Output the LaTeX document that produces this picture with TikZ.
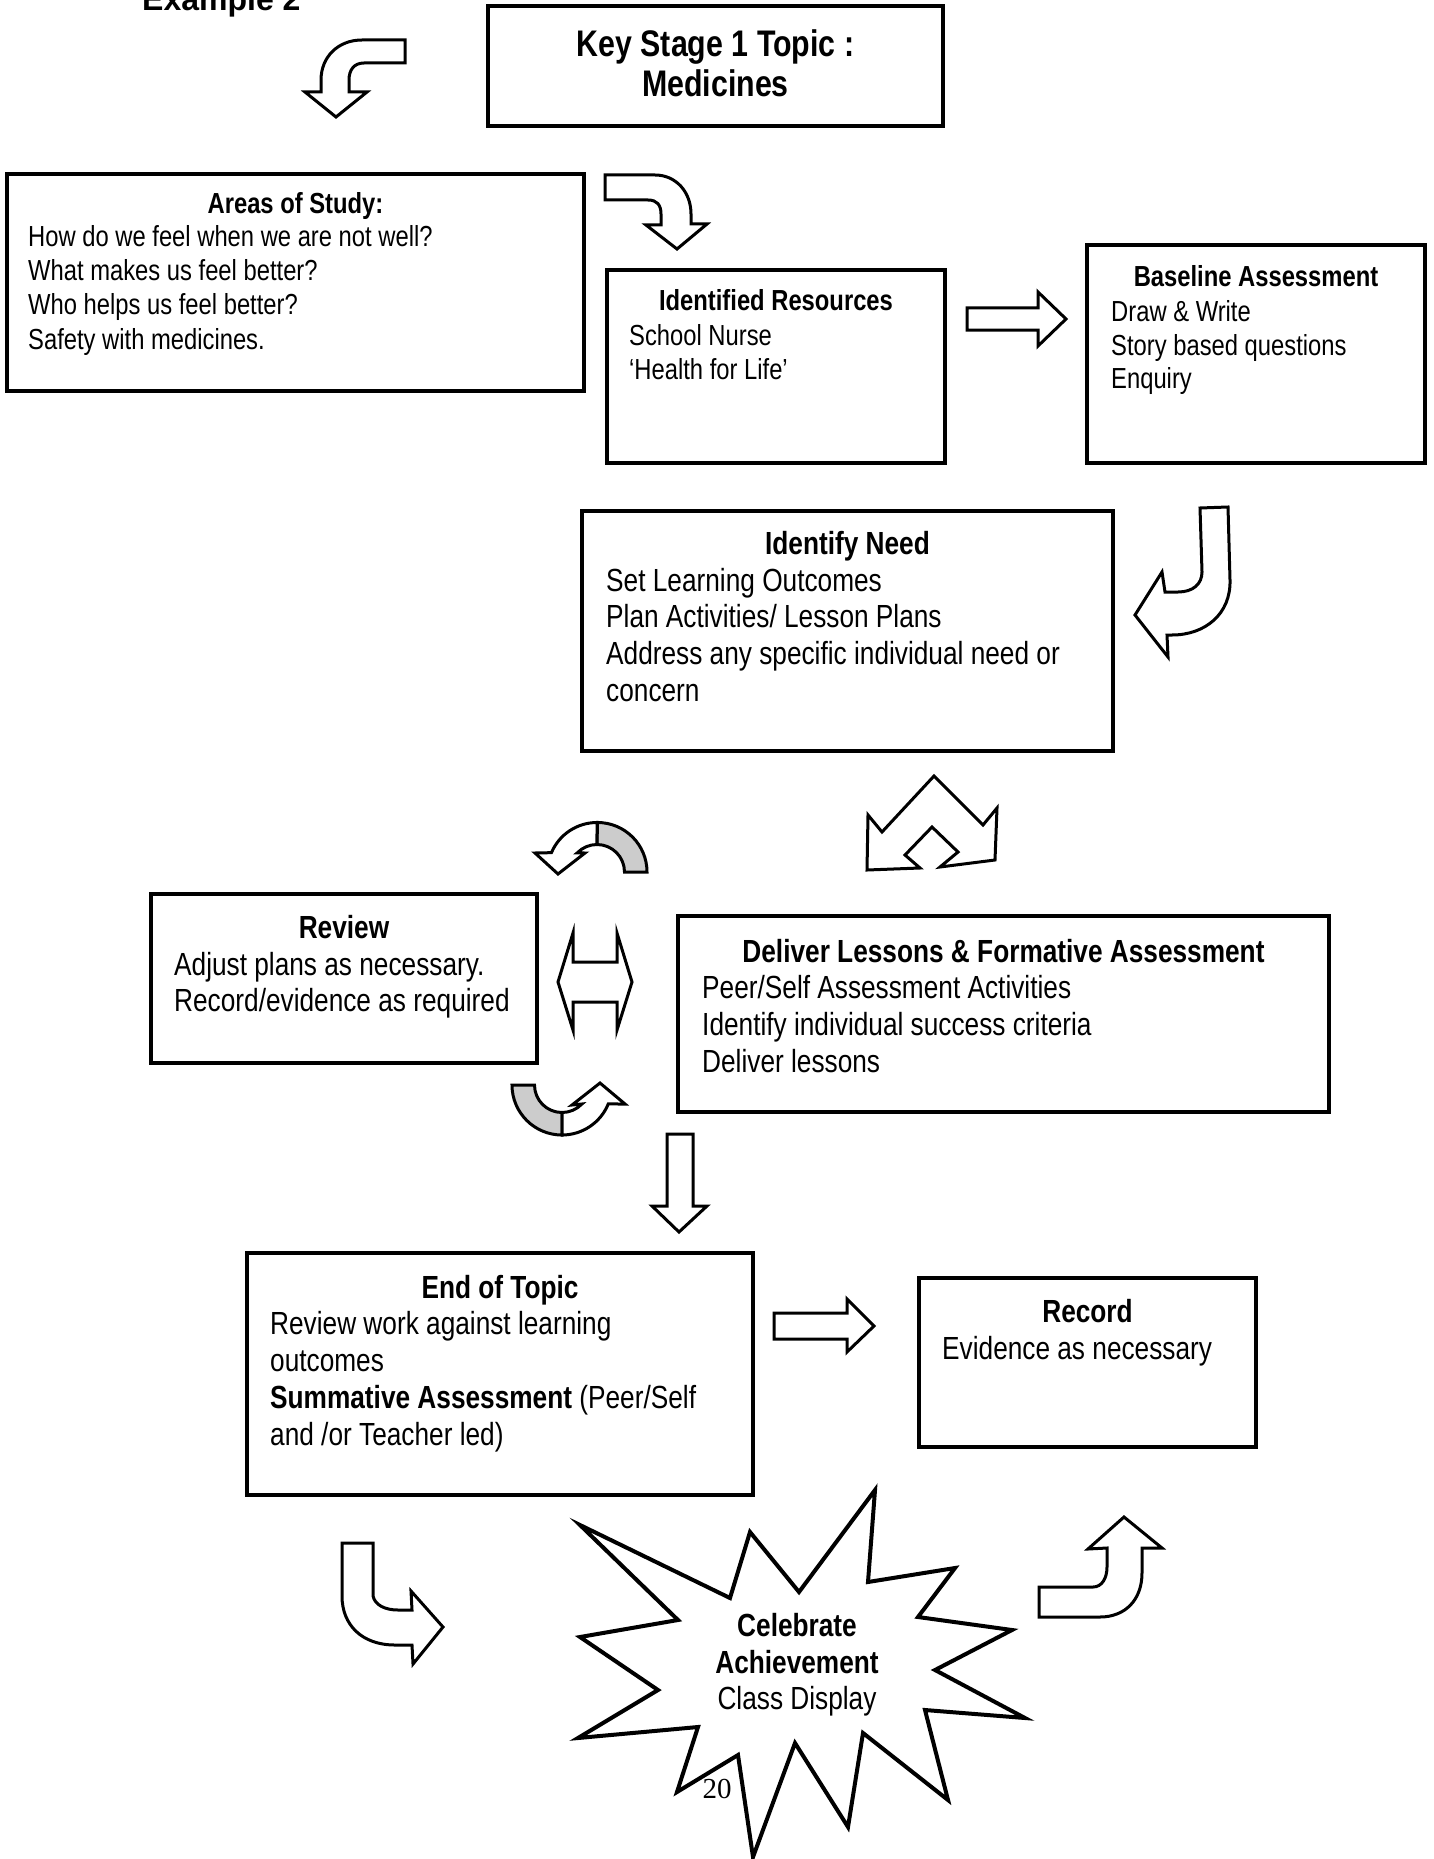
\documentclass[tikz,border=0pt]{standalone}
\usepackage{fontspec}
\setmainfont{Liberation Sans}[FakeStretch=0.82]
\newfontfamily\headfont{Liberation Sans}
\newfontfamily\pagefont{Liberation Serif}
\newcommand{\smalltxt}{\fontsize{29}{34}\selectfont}
\newcommand{\bigtxt}{\fontsize{32}{37}\selectfont}
\newcommand{\toptxt}{\fontsize{37}{42}\selectfont}

\begin{document}
\begin{tikzpicture}[x=1pt,y=-1pt,
    box/.style={draw, line width=4pt, inner sep=0pt, outer sep=0pt},
    bigarrow/.style={draw, line width=3pt, fill=white, line join=miter},
    greyband/.style={draw, line width=3pt, fill=black!20, line join=miter},
    smline/.style={anchor=base west, inner sep=0pt, font=\smalltxt},
    smtitle/.style={anchor=base, inner sep=0pt, font=\smalltxt\bfseries},
    lgline/.style={anchor=base west, inner sep=0pt, font=\bigtxt},
    lgtitle/.style={anchor=base, inner sep=0pt, font=\bigtxt\bfseries}]
    \useasboundingbox (0,0) rectangle (1433,1859);

    \node[anchor=base west, inner sep=0pt, font=\headfont\fontsize{32}{38}\selectfont\bfseries] (example) at (142,11) {Example 2};

    % boxes
    \node[box, minimum width=455, minimum height=120] (topic) at (715.5,66.5) {};
    \node[box, minimum width=577, minimum height=217] (areas) at (295.5,282.5) {};
    \node[box, minimum width=338, minimum height=193] (resources) at (776,366.5) {};
    \node[box, minimum width=338, minimum height=218] (baseline) at (1256,354) {};
    \node[box, minimum width=531, minimum height=240] (need) at (847.5,631) {};
    \node[box, minimum width=386, minimum height=169] (review) at (344,978.5) {};
    \node[box, minimum width=651, minimum height=196] (deliver) at (1003.5,1014) {};
    \node[box, minimum width=506, minimum height=242] (endtopic) at (500,1374) {};
    \node[box, minimum width=337, minimum height=169] (record) at (1087.5,1362.5) {};

    % texts
    \node[anchor=base, inner sep=0pt, font=\toptxt\bfseries] (topic-1) at (715.5,57) {Key Stage 1 Topic :};
    \node[anchor=base, inner sep=0pt, font=\toptxt\bfseries] (topic-2) at (715.5,97) {Medicines};

    \node[smtitle] (areas-t) at (295.5,214) {Areas of Study:};
    \node[smline] (areas-1) at (28,247) {How do we feel when we are not well?};
    \node[smline] (areas-2) at (28,281) {What makes us feel better?};
    \node[smline] (areas-3) at (28,315) {Who helps us feel better?};
    \node[smline] (areas-4) at (28,349) {Safety with medicines.};

    \node[smtitle] (resources-t) at (776,311) {Identified Resources};
    \node[smline] (resources-1) at (629,345) {School Nurse};
    \node[smline] (resources-2) at (629,379) {‘Health for Life’};

    \node[smtitle] (baseline-t) at (1256,287) {Baseline Assessment};
    \node[smline] (baseline-1) at (1111,321) {Draw \& Write};
    \node[smline] (baseline-2) at (1111,355) {Story based questions};
    \node[smline] (baseline-3) at (1111,388) {Enquiry};

    \node[lgtitle] (need-t) at (847.5,554) {Identify Need};
    \node[lgline] (need-1) at (606,591) {Set Learning Outcomes};
    \node[lgline] (need-2) at (606,627) {Plan Activities/ Lesson Plans};
    \node[lgline] (need-3) at (606,664) {Address any specific individual need or};
    \node[lgline] (need-4) at (606,701) {concern};

    \node[lgtitle] (review-t) at (344,938) {Review};
    \node[lgline] (review-1) at (174,975) {Adjust plans as necessary.};
    \node[lgline] (review-2) at (174,1011) {Record/evidence as required};

    \node[lgtitle] (deliver-t) at (1003.5,962) {Deliver Lessons \& Formative Assessment};
    \node[lgline] (deliver-1) at (702,998) {Peer/Self Assessment Activities};
    \node[lgline] (deliver-2) at (702,1035) {Identify individual success criteria};
    \node[lgline] (deliver-3) at (702,1072) {Deliver lessons};

    \node[lgtitle] (endtopic-t) at (500,1298) {End of Topic};
    \node[lgline] (endtopic-1) at (270,1334) {Review work against learning};
    \node[lgline] (endtopic-2) at (270,1371) {outcomes};
    \node[lgline] (endtopic-3) at (270,1408) {\textbf{Summative Assessment} (Peer/Self};
    \node[lgline] (endtopic-4) at (270,1445) {and /or Teacher led)};

    \node[lgtitle] (record-t) at (1087.5,1322) {Record};
    \node[lgline] (record-1) at (942,1359) {Evidence as necessary};

    % block arrows
    \draw[bigarrow] (405,40) -- (362,40) .. controls (338,40) and (321,57) .. (321,80) -- (321,92) -- (305,92) -- (336,117) -- (367,92) -- (349,92) -- (349,80) .. controls (349,70) and (354,63) .. (364,63) -- (405,63) -- cycle;
    \draw[bigarrow] (605,175) -- (655,175) .. controls (676,175) and (691,192) .. (691,214) -- (691,224) -- (707,224) -- (677,249) -- (646,225) -- (661,225) -- (661,214) .. controls (661,205) and (657,200) .. (648,200) -- (605,200) -- cycle;
    \draw[bigarrow] (967,308) -- (1038,308) -- (1038,292) -- (1066,319) -- (1038,346) -- (1038,330) -- (967,330) -- cycle;
    \draw[bigarrow] (1200,508) -- (1228,507) -- (1230,580) .. controls (1231,614) and (1205,635) .. (1172,635) -- (1167,635) -- (1168,657) -- (1135,615) -- (1162,572) -- (1165,592) -- (1178,592) .. controls (1193,592) and (1202,584) .. (1202,572) -- cycle;
    \draw[bigarrow] (867,870) -- (868,815) -- (882,832) -- (934,776) -- (983,825) -- (997,808) -- (995,860) -- (940,867) -- (958,852) -- (932,827) -- (905,855) -- (920,868) -- cycle;
    \draw[greyband] (647,872) arc[start angle=0, end angle=-90, radius=49.5] -- (597,844.5) arc[start angle=-90, end angle=0, radius=27.5] -- cycle;
    \draw[bigarrow] (597,822.5) arc[start angle=-90, end angle=-157, radius=49.5] -- (535,853) -- (558,874) -- (585,853) -- (577.2,852.9) arc[start angle=-136, end angle=-90, radius=27.5] -- cycle;
    \draw[bigarrow] (573,933) -- (558,982) -- (573,1030) -- (573,1002) -- (617,1002) -- (617,1030) -- (632,982) -- (617,933) -- (617,962) -- (573,962) -- cycle;
    \draw[greyband] (512,1085) arc[start angle=180, end angle=90, radius=50] -- (562,1112.5) arc[start angle=90, end angle=180, radius=27.5] -- cycle;
    \draw[bigarrow] (562,1135) arc[start angle=90, end angle=22.3, radius=50] -- (625,1104) -- (600,1083) -- (572,1105) -- (581.9,1104) arc[start angle=43.7, end angle=90, radius=27.5] -- cycle;
    \draw[bigarrow] (667,1134) -- (693,1134) -- (693,1206) -- (707,1206) -- (679,1232) -- (652,1206) -- (667,1206) -- cycle;
    \draw[bigarrow] (774,1313) -- (847,1313) -- (847,1299) -- (874,1326) -- (847,1352) -- (847,1339) -- (774,1339) -- cycle;
    \draw[bigarrow] (342,1543) -- (373,1543) -- (373,1596) .. controls (375,1605) and (385,1610) .. (398,1610) -- (412,1610) -- (411,1591) -- (443,1627) -- (413,1664) -- (412,1645) -- (395,1645) .. controls (362,1645) and (342,1625) .. (342,1596) -- cycle;
    \draw[bigarrow] (1039,1587) -- (1093,1587) .. controls (1102,1587) and (1107,1578) .. (1107,1567) -- (1107,1548) -- (1088,1549) -- (1124,1517) -- (1162,1548) -- (1142,1548) -- (1142,1573) .. controls (1142,1600) and (1125,1617) .. (1100,1617) -- (1039,1617) -- cycle;

    % star
    \draw[line width=4pt, line join=miter, fill=white] (580,1525) -- (730,1598) -- (750,1532) -- (799,1592) -- (875,1490) -- (868,1582) -- (955,1568) -- (918,1617) -- (1012,1630) -- (935,1670) -- (1025,1718) -- (925,1710) -- (948,1800) -- (863,1733) -- (848,1827) -- (795,1743) -- (753,1857) -- (738,1755) -- (677,1792) -- (698,1727) -- (578,1738) -- (658,1690) -- (580,1637) -- (678,1620) -- cycle;
    \node[lgtitle] (star-1) at (797,1636) {Celebrate};
    \node[lgtitle] (star-2) at (797,1673) {Achievement};
    \node[anchor=base, inner sep=0pt, font=\bigtxt] (star-3) at (797,1709) {Class Display};
    \node[anchor=base, inner sep=0pt, font=\pagefont\fontsize{29}{34}\selectfont] (page) at (717,1798) {20};
\end{tikzpicture}
\end{document}
